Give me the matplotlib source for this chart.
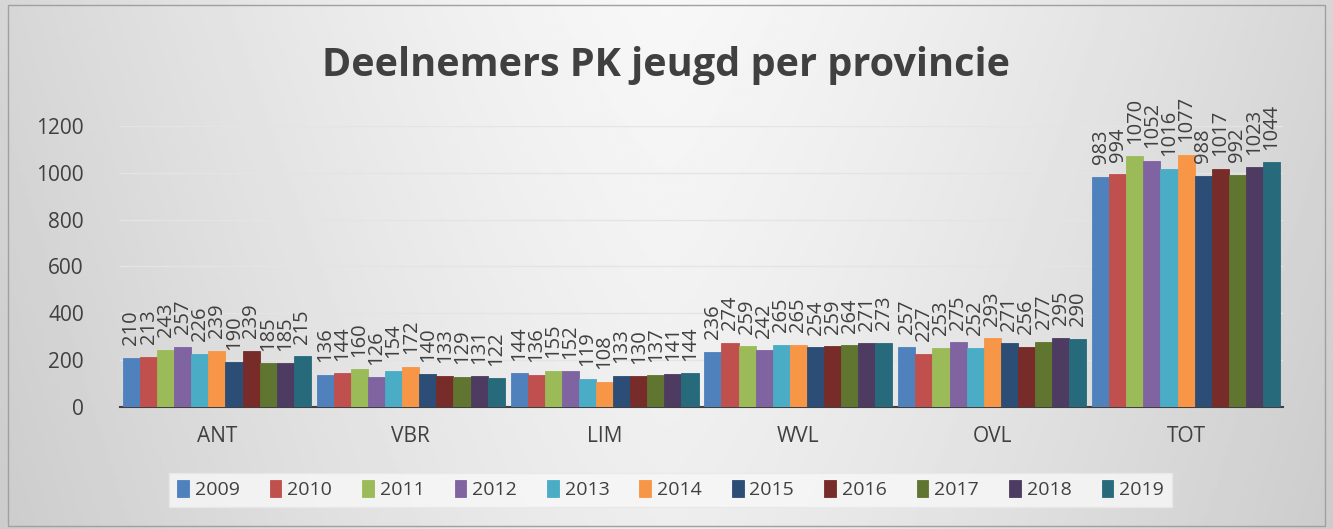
import numpy as np
import matplotlib
matplotlib.use("Agg")
import matplotlib.pyplot as plt
from matplotlib.patches import Rectangle

# data
provincies = ['ANT', 'VBR', 'LIM', 'WVL', 'OVL', 'TOT']
jaren = ['2009', '2010', '2011', '2012', '2013', '2014', '2015', '2016', '2017', '2018', '2019']
ant = [210, 213, 243, 257, 226, 239, 190, 239, 185, 185, 215]
vbr = [136, 144, 160, 126, 154, 172, 140, 133, 129, 131, 122]
lim = [144, 136, 155, 152, 119, 108, 133, 130, 137, 141, 144]
wvl = [236, 274, 259, 242, 265, 265, 254, 259, 264, 271, 273]
ovl = [257, 227, 253, 275, 252, 293, 271, 256, 277, 295, 290]
tot = [983, 994, 1070, 1052, 1016, 1077, 988, 1017, 992, 1023, 1044]
yticks = [0, 200, 400, 600, 800, 1000, 1200]

colors = ['#4F81BD', '#C0504D', '#9BBB59', '#8064A2', '#4BACC6', '#F79646',
          '#2C4D75', '#772C2A', '#5F7530', '#4D3B62', '#276A7C']

values = np.array([ant, vbr, lim, wvl, ovl, tot])  # rows = provincie, cols = jaar

plt.rcParams['font.family'] = ['Open Sans', 'DejaVu Sans']

fig = plt.figure(figsize=(13.33, 5.29), dpi=100)

# gray gradient background
bg = fig.add_axes([0, 0, 1, 1], zorder=-10)
xx = np.linspace(-1, 1, 400)
yy = np.linspace(0, 1, 200)
X, Y = np.meshgrid(xx, yy)
shade = 0.97 - 0.13 * np.abs(X) ** 1.3 - 0.04 * Y
bg.imshow(shade, cmap='gray', vmin=0, vmax=1, aspect='auto', extent=[0, 1, 0, 1])
bg.add_patch(Rectangle((0.006, 0.006), 0.988, 0.985, fill=False, ec='#a0a0a0', lw=1,
                       transform=bg.transAxes))
bg.set_axis_off()

ax = fig.add_axes([0.090, 0.231, 0.8725, 0.531])
ax.patch.set_alpha(0)

n = len(jaren)
x = np.arange(len(provincies))
groupw = 0.97
width = groupw / n
for i, jaar in enumerate(jaren):
    pos = x - groupw / 2 + width * (i + 0.5)
    ax.bar(pos, values[:, i], width=width, color=colors[i], label=jaar,
           edgecolor=colors[i], linewidth=0.6, zorder=3)
    for px, v in zip(pos, values[:, i]):
        ax.annotate(str(v), (px, v), xytext=(0, 9), textcoords='offset points',
                    rotation=90, ha='center', va='bottom', fontsize=14.5,
                    color='#404040', annotation_clip=False, zorder=4)

ax.set_xlim(-0.5, len(provincies) - 0.5)
ax.set_ylim(0, 1200)
ax.set_yticks(yticks)
ax.set_xticks(x)
ax.set_xticklabels(provincies)
ax.tick_params(axis='both', length=0, labelsize=15, colors='#404040')
ax.tick_params(axis='y', pad=26)
ax.tick_params(axis='x', pad=14)
ax.grid(axis='y', color='#e4e4e4', linewidth=1, zorder=0)
for s in ['top', 'right', 'left']:
    ax.spines[s].set_visible(False)
ax.spines['bottom'].set_color('#404040')
ax.spines['bottom'].set_linewidth(1.5)

fig.text(0.5, 0.877, 'Deelnemers PK jeugd per provincie', ha='center', va='center',
         fontsize=28.5, fontweight='bold', color='#404040')

leg = fig.legend(loc='center', bbox_to_anchor=(0.503, 0.074), ncol=n, fontsize=14,
                 frameon=True, fancybox=False, handlelength=0.6, handleheight=0.9,
                 handletextpad=0.3, columnspacing=1.55, borderpad=0.4)
leg.get_frame().set_facecolor('#f8f8f8')
leg.get_frame().set_edgecolor('#e8e8e8')
for t in leg.get_texts():
    t.set_color('#404040')

fig.savefig('out.png', dpi=100)
